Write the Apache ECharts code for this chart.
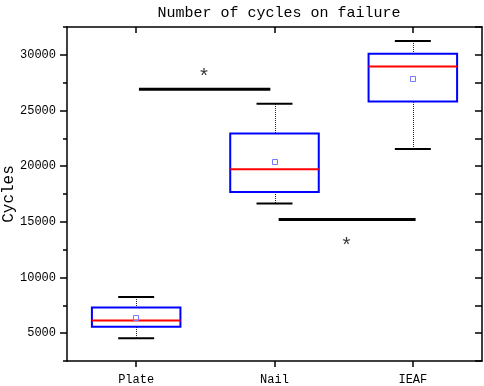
<!DOCTYPE html>
<html>
<head>
<meta charset="utf-8">
<script src="https://cdn.jsdelivr.net/npm/echarts@6/dist/echarts.min.js"></script>
<style>
  html, body { margin: 0; padding: 0; background: #fff; }
  #chart { width: 484px; height: 386px; }
</style>
</head>
<body>
<div id="chart"></div>
<script>
// === DATA ===
const categories = ['Plate', 'Nail', 'IEAF'];
const whiskerLow = [4550, 16640, 21550];
const q1 = [5570, 17690, 25800];
const median = [6130, 19730, 28950];
const q3 = [7300, 22930, 30090];
const whiskerHigh = [8250, 25600, 31250];
const means = [6380, 20390, 27820];
const yTicks = [5000, 10000, 15000, 20000, 25000, 30000];
// significance bars: [x0, x1, y] in category-index units
const sigBars = [[0.02, 0.97, 26900], [1.03, 2.02, 15200]];
const sigStars = [[0.49, 28290], [1.52, 13140]];

const FONT = 'Liberation Mono';

// === BOXES ===
function renderBox(params, api) {
    const x = api.value(0);
    const band = api.size([1, 0])[0];
    const boxW = band * 0.64;
    const capW = band * 0.26;
    const cx = api.coord([x, 0])[0];
    const lx = Math.round(cx) + 0.5;
    const pLow = api.coord([x, api.value(1)])[1];
    const pQ1 = api.coord([x, api.value(2)])[1];
    const pMed = api.coord([x, api.value(3)])[1];
    const pQ3 = api.coord([x, api.value(4)])[1];
    const pHigh = api.coord([x, api.value(5)])[1];
    const pMean = api.coord([x, api.value(6)])[1];
    const dotted = { stroke: '#222', lineWidth: 1, lineDash: [1, 1] };
    const cap = { stroke: '#000', lineWidth: 2 };
    return {
        type: 'group',
        children: [
            { type: 'line', shape: { x1: lx, y1: Math.round(pHigh), x2: lx, y2: Math.round(pQ3) }, style: dotted },
            { type: 'line', shape: { x1: lx, y1: Math.round(pQ1), x2: lx, y2: Math.round(pLow) }, style: dotted },
            { type: 'line', shape: { x1: cx - capW / 2, y1: pHigh, x2: cx + capW / 2, y2: pHigh }, style: cap },
            { type: 'line', shape: { x1: cx - capW / 2, y1: pLow, x2: cx + capW / 2, y2: pLow }, style: cap },
            {
                type: 'rect',
                shape: { x: cx - boxW / 2, y: pQ3, width: boxW, height: pQ1 - pQ3 },
                style: { fill: 'none', stroke: '#0000ff', lineWidth: 2 }
            },
            { type: 'line', shape: { x1: cx - boxW / 2, y1: pMed, x2: cx + boxW / 2, y2: pMed }, style: { stroke: '#ff0000', lineWidth: 2 } },
            {
                type: 'rect',
                shape: { x: Math.round(cx) - 2.5, y: Math.round(pMean) - 2.5, width: 5, height: 5 },
                style: { fill: 'none', stroke: '#7777ff', lineWidth: 1 }
            }
        ]
    };
}

const boxData = categories.map((c, i) => [i, whiskerLow[i], q1[i], median[i], q3[i], whiskerHigh[i], means[i]]);

// === CHART ===
const chart = echarts.init(document.getElementById('chart'));

const axisLine = { show: true, onZero: false, lineStyle: { color: '#000', width: 1.5 } };

const option = {
    animation: false,
    backgroundColor: '#fff',
    title: {
        text: 'Number of cycles on failure',
        left: 274,
        textAlign: 'center',
        top: 1,
        textStyle: { fontFamily: FONT, fontSize: 15, fontWeight: 'normal', color: '#000' }
    },
    grid: { left: 67, right: 2, top: 27, bottom: 25, outerBoundsMode: 'none', containLabel: false },
    xAxis: [
        {
            type: 'category',
            data: categories,
            position: 'bottom',
            axisLine: axisLine,
            axisTick: { show: true, alignWithLabel: true, length: 6, lineStyle: { color: '#000', width: 1.5 } },
            axisLabel: { fontFamily: FONT, fontSize: 12, color: '#000', margin: 13 },
            splitLine: { show: false }
        },
        {
            type: 'category',
            data: categories,
            position: 'top',
            axisLine: axisLine,
            axisTick: { show: true, inside: true, alignWithLabel: true, length: 6, lineStyle: { color: '#000', width: 1.5 } },
            axisLabel: { show: false },
            splitLine: { show: false }
        },
        {
            type: 'value',
            show: false,
            min: -0.5,
            max: 2.5
        }
    ],
    yAxis: [
        {
            type: 'value',
            min: 2500,
            max: 32500,
            interval: 2500,
            position: 'left',
            axisLine: axisLine,
            axisTick: { show: true, length: 4, lineStyle: { color: '#000', width: 1.5 } },
            axisLabel: { show: false },
            splitLine: { show: false },
            name: 'Cycles',
            nameLocation: 'middle',
            nameGap: 50,
            nameMoveOverlap: false,
            nameTextStyle: { fontFamily: FONT, fontSize: 16, color: '#000' }
        },
        {
            type: 'value',
            min: 2500,
            max: 32500,
            interval: 2500,
            position: 'left',
            axisLine: { show: false, onZero: false },
            axisTick: { show: true, length: 7, customValues: yTicks, lineStyle: { color: '#000', width: 1.5 } },
            axisLabel: {
                show: true,
                customValues: yTicks,
                formatter: v => String(v),
                fontFamily: FONT,
                fontSize: 12,
                color: '#000',
                margin: 11
            },
            splitLine: { show: false }
        },
        {
            type: 'value',
            min: 2500,
            max: 32500,
            interval: 2500,
            position: 'right',
            axisLine: axisLine,
            axisTick: { show: true, inside: true, length: 7, lineStyle: { color: '#000', width: 1.5 } },
            axisLabel: { show: false },
            splitLine: { show: false }
        }
    ],
    series: [
        {
            type: 'custom',
            xAxisIndex: 0,
            yAxisIndex: 0,
            renderItem: renderBox,
            encode: { x: 0, y: [1, 2, 3, 4, 5, 6] },
            data: boxData,
            z: 3
        },
        ...sigBars.map(b => ({
            type: 'line',
            xAxisIndex: 2,
            yAxisIndex: 0,
            symbol: 'none',
            lineStyle: { color: '#000', width: 3 },
            data: [[b[0], b[2]], [b[1], b[2]]],
            z: 4
        })),
        {
            type: 'scatter',
            xAxisIndex: 2,
            yAxisIndex: 0,
            symbolSize: 1,
            itemStyle: { color: 'rgba(0,0,0,0)' },
            label: {
                show: true,
                position: 'inside',
                offset: [0, 4],
                formatter: '*',
                fontFamily: FONT,
                fontSize: 20,
                color: '#000'
            },
            data: sigStars,
            z: 5
        }
    ]
};

chart.setOption(option);
</script>
</body>
</html>
